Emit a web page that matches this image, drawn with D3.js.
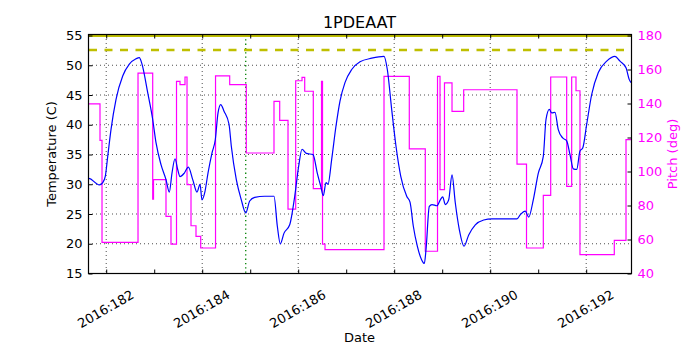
<!DOCTYPE html>
<html>
<head>
<meta charset="utf-8">
<script src="https://cdn.jsdelivr.net/npm/d3@7"></script>
<style>
  body { margin: 0; background: #fff; }
  text { font-family: "DejaVu Sans", sans-serif; }
</style>
</head>
<body>
<script>
// temperature (blue) samples: day of year, deg C
var tempDays = [181.631, 181.646, 181.867, 181.938, 181.992, 182.042, 182.110, 182.215, 182.354, 182.492,
  182.631, 182.700, 182.756, 182.875, 182.979, 183.048, 183.152, 183.256, 183.325, 183.381,
  183.444, 183.500, 183.548, 183.638, 183.721, 183.813, 183.902, 183.965, 184.006, 184.063,
  184.131, 184.215, 184.283, 184.340, 184.396, 184.465, 184.569, 184.617, 184.721, 184.825,
  184.917, 185.000, 185.104, 185.313, 185.506, 185.575, 185.638, 185.715, 185.833, 185.938,
  186.021, 186.090, 186.179, 186.319, 186.408, 186.479, 186.533, 186.590, 186.631, 186.708,
  186.798, 186.881, 186.985, 187.125, 187.298, 187.542, 187.798, 187.867, 187.958, 188.048,
  188.146, 188.271, 188.340, 188.408, 188.492, 188.583, 188.638, 188.673, 188.742, 188.798,
  188.902, 188.971, 189.021, 189.075, 189.146, 189.215, 189.283, 189.367, 189.465, 189.563,
  189.700, 189.875, 190.048, 190.569, 190.638, 190.742, 190.813, 190.908, 191.013, 191.117,
  191.173, 191.242, 191.292, 191.360, 191.429, 191.521, 191.604, 191.673, 191.742, 191.813,
  191.881, 191.938, 192.021, 192.125, 192.263, 192.438, 192.610, 192.715, 192.840, 192.908, 192.944];
var tempValues = [30.9, 30.9, 29.8, 30.2, 31.3, 34.6, 39.1, 44.2, 48.1, 50.1,
  51.0, 51.2, 50.1, 45.3, 40.8, 36.9, 33.2, 30.7, 28.6, 31.8,
  34.2, 32.4, 31.2, 31.8, 32.8, 30.7, 28.6, 29.9, 27.3, 28.5,
  31.8, 35.2, 37.4, 41.9, 43.3, 42.2, 40.0, 36.3, 30.7, 27.3,
  25.1, 27.1, 27.7, 27.9, 27.9, 22.9, 19.9, 21.7, 23.1, 27.9,
  33.0, 35.8, 35.1, 34.9, 31.8, 29.6, 28.0, 30.2, 29.9, 34.1,
  39.7, 43.9, 47.0, 49.2, 50.5, 51.1, 51.4, 49.2, 42.5, 36.3,
  31.3, 27.9, 26.9, 22.9, 19.5, 17.2, 16.6, 18.9, 26.2, 26.5,
  26.3, 27.3, 27.8, 26.5, 27.3, 31.5, 26.8, 22.3, 19.5, 21.4,
  23.1, 23.9, 24.1, 24.1, 24.8, 25.4, 24.4, 27.3, 31.8, 34.6,
  40.8, 42.5, 41.9, 42.0, 39.1, 37.7, 37.2, 34.9, 32.5, 32.4,
  35.5, 36.0, 40.0, 45.0, 48.7, 50.6, 51.4, 50.6, 49.5, 47.5, 47.0];

// pitch (magenta) steps: day the level starts, deg
var pitchDays = [181.631, 181.881, 181.923, 182.673, 182.979, 182.996, 183.256, 183.360, 183.475, 183.548,
  183.652, 183.694, 183.777, 183.881, 183.979, 184.288, 184.583, 184.929, 185.506, 185.625,
  185.798, 185.958, 186.090, 186.146, 186.325, 186.496, 186.517, 186.569, 187.798, 188.325,
  188.658, 188.913, 188.965, 189.058, 189.215, 189.458, 190.569, 190.767, 191.117, 191.271,
  191.604, 191.708, 191.798, 191.881, 192.596, 192.840, 192.944];
var pitchValues = [139.5, 118, 58, 157.6, 83.5, 94.9, 73.3, 57, 152.7, 150.8,
  155.3, 92, 67.8, 61.6, 54.7, 156, 150.8, 110.6, 141, 129.8,
  77.6, 153.1, 155.1, 146.9, 89.6, 152.7, 57, 53.7, 155.7, 113,
  52.8, 155.7, 89, 151.8, 135.1, 147.8, 104.1, 54.7, 85.7, 155.3,
  91, 155.3, 147.2, 50.8, 59.2, 118.4, 118.4];

var tempTicks = [15, 20, 25, 30, 35, 40, 45, 50, 55];
var pitchTicks = [40, 60, 80, 100, 120, 140, 160, 180];
var dayTicks = [182, 184, 186, 188, 190, 192];
var dayMinor = [183, 185, 187, 189, 191];
var limitTemp = 52.5;
var maxTemp = 55;
var markerDay = 184.917;

var width = 700;
var height = 350;
var plot = { left: 88, right: 631, top: 35, bottom: 273 };

var svg = d3
  .select("body")
  .append("svg")
  .attr("width", width)
  .attr("height", height);

svg.append("rect").attr("width", width).attr("height", height).attr("fill", "#fff");

var x = d3.scaleLinear().domain([181.631, 192.944]).range([plot.left, plot.right]);
var yT = d3.scaleLinear().domain([15, 55]).range([plot.bottom, plot.top]);
var yP = d3.scaleLinear().domain([40, 180]).range([plot.bottom, plot.top]);

svg
  .append("clipPath")
  .attr("id", "clip")
  .append("rect")
  .attr("x", plot.left)
  .attr("y", plot.top)
  .attr("width", plot.right - plot.left)
  .attr("height", plot.bottom - plot.top);

// grid
var grid = svg.append("g").attr("stroke", "#000").attr("stroke-width", 0.7).attr("stroke-dasharray", "1,3");
grid
  .selectAll("line.h")
  .data(tempTicks.slice(1, -1))
  .enter()
  .append("line")
  .attr("x1", plot.left)
  .attr("x2", plot.right)
  .attr("y1", function(d) { return yT(d) + 0.5; })
  .attr("y2", function(d) { return yT(d) + 0.5; });
grid
  .selectAll("line.v")
  .data(dayTicks)
  .enter()
  .append("line")
  .attr("y1", plot.top)
  .attr("y2", plot.bottom)
  .attr("x1", function(d) { return x(d) + 0.5; })
  .attr("x2", function(d) { return x(d) + 0.5; });

var layer = svg.append("g").attr("clip-path", "url(#clip)");

layer
  .append("line")
  .attr("x1", x(markerDay))
  .attr("x2", x(markerDay))
  .attr("y1", plot.top)
  .attr("y2", plot.bottom)
  .attr("stroke", "#008000")
  .attr("stroke-width", 1.3)
  .attr("stroke-dasharray", "1.3,3");

layer
  .append("line")
  .attr("x1", plot.left)
  .attr("x2", plot.right)
  .attr("y1", yT(limitTemp))
  .attr("y2", yT(limitTemp))
  .attr("stroke", "#bfbf00")
  .attr("stroke-width", 2.5)
  .attr("stroke-dasharray", "8,7.5")
  .attr("stroke-dashoffset", -1);

layer
  .append("line")
  .attr("x1", plot.left)
  .attr("x2", plot.right)
  .attr("y1", yT(maxTemp) + 1)
  .attr("y2", yT(maxTemp) + 1)
  .attr("stroke", "#bfbf00")
  .attr("stroke-width", 2);

var tempLine = d3
  .line()
  .x(function(d, i) { return x(tempDays[i]); })
  .y(function(d) { return yT(d); })
  .curve(d3.curveMonotoneX);

var pitchLine = d3
  .line()
  .x(function(d, i) { return x(pitchDays[i]); })
  .y(function(d) { return yP(d); })
  .curve(d3.curveStepAfter);

layer
  .append("path")
  .attr("d", pitchLine(pitchValues))
  .attr("fill", "none")
  .attr("stroke", "#ff00ff")
  .attr("stroke-width", 1.2);

layer
  .append("path")
  .attr("d", tempLine(tempValues))
  .attr("fill", "none")
  .attr("stroke", "#0000ff")
  .attr("stroke-width", 1.2);

// frame
svg
  .append("rect")
  .attr("x", plot.left + 0.5)
  .attr("y", plot.top - 0.5)
  .attr("width", plot.right - plot.left)
  .attr("height", plot.bottom - plot.top + 1)
  .attr("fill", "none")
  .attr("stroke", "#000")
  .attr("stroke-width", 1.2);

// axes
var axisL = svg
  .append("g")
  .attr("transform", "translate(" + (plot.left + 0.5) + ",0.5)")
  .call(d3.axisLeft(yT).tickValues(tempTicks).tickSize(-4).tickPadding(6));

var axisR = svg
  .append("g")
  .attr("transform", "translate(" + (plot.right + 0.5) + ",0.5)")
  .call(d3.axisRight(yP).tickValues(pitchTicks).tickSize(-4).tickPadding(6));

var axisB = svg
  .append("g")
  .attr("transform", "translate(0.5," + (plot.bottom + 0.5) + ")")
  .call(d3.axisBottom(x).tickValues(dayTicks.concat(dayMinor)).tickSize(-4).tickFormat(""));

var axisT = svg
  .append("g")
  .attr("transform", "translate(0.5," + (plot.top - 0.5) + ")")
  .call(d3.axisTop(x).tickValues(dayTicks.concat(dayMinor)).tickSize(-4).tickFormat(""));

[axisL, axisR, axisB, axisT].forEach(function(g) {
  g.select(".domain").remove();
  g.selectAll("text").attr("font-size", 13).attr("font-family", "DejaVu Sans");
  g.selectAll("line").attr("stroke", "#000");
});
axisR.selectAll("text").attr("fill", "#ff00ff");

svg
  .append("g")
  .selectAll("text")
  .data(dayTicks)
  .enter()
  .append("text")
  .attr("transform", function(d) {
    return "translate(" + x(d) + "," + 309 + ") rotate(-30)";
  })
  .attr("text-anchor", "middle")
  .attr("dy", "0.35em")
  .attr("font-size", 13)
  .text(function(d) { return "2016:" + d; });

svg
  .append("text")
  .attr("x", (plot.left + plot.right) / 2)
  .attr("y", 28)
  .attr("text-anchor", "middle")
  .attr("font-size", 16)
  .text("1PDEAAT");

svg
  .append("text")
  .attr("transform", "translate(51," + (plot.top + plot.bottom) / 2 + ") rotate(-90)")
  .attr("text-anchor", "middle")
  .attr("dy", "0.35em")
  .attr("font-size", 13)
  .text("Temperature (C)");

svg
  .append("text")
  .attr("transform", "translate(672," + (plot.top + plot.bottom) / 2 + ") rotate(-90)")
  .attr("text-anchor", "middle")
  .attr("dy", "0.35em")
  .attr("font-size", 13)
  .attr("fill", "#ff00ff")
  .text("Pitch (deg)");

svg
  .append("text")
  .attr("x", (plot.left + plot.right) / 2)
  .attr("y", 342)
  .attr("text-anchor", "middle")
  .attr("font-size", 13)
  .text("Date");
</script>
</body>
</html>
